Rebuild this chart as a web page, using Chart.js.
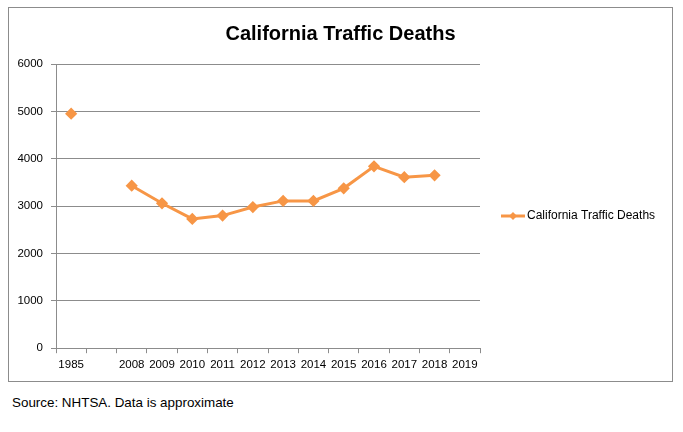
<!DOCTYPE html>
<html>
<head>
<meta charset="utf-8">
<script src="https://cdn.jsdelivr.net/npm/chart.js@4.4.0/dist/chart.umd.min.js"></script>
<style>
  html, body { margin: 0; padding: 0; background: #fff; }
  #frame { position: absolute; left: 8px; top: 7px; width: 663px; height: 373px; border: 1px solid #8c8c8c; }
  #wrap { position: absolute; left: 0; top: 0; width: 663px; height: 373px; }
  #src { position: absolute; left: 12px; top: 395px; font: 13.4px "Liberation Sans", Arial, sans-serif; color: #000; }
</style>
</head>
<body>
<div id="frame"><div id="wrap"><canvas id="c"></canvas></div></div>
<div id="src">Source: NHTSA. Data is approximate</div>
<script>
const categories = ["1985", "", "2008", "2009", "2010", "2011", "2012", "2013", "2014", "2015", "2016", "2017", "2018", "2019"];
const deaths = [4950, null, 3430, 3060, 2730, 2800, 2980, 3110, 3110, 3375, 3840, 3610, 3650, null];
const yTicks = [0, 1000, 2000, 3000, 4000, 5000, 6000];
const seriesName = "California Traffic Deaths";
const titleText = "California Traffic Deaths";
const orange = "#F79646";
const tickFont = { family: "Liberation Sans", size: 11.5 };

const legendPlugin = {
  id: 'sideLegend',
  afterDraw(chart) {
    const ctx = chart.ctx;
    const ds = chart.data.datasets[0];
    const y = 208;
    const x0 = 492, x1 = 516;
    ctx.save();
    ctx.strokeStyle = ds.borderColor;
    ctx.lineWidth = 3;
    ctx.beginPath(); ctx.moveTo(x0, y); ctx.lineTo(x1, y); ctx.stroke();
    ctx.fillStyle = ds.borderColor;
    const cx = (x0 + x1) / 2, r = 4;
    ctx.beginPath(); ctx.moveTo(cx, y - r); ctx.lineTo(cx + r, y); ctx.lineTo(cx, y + r); ctx.lineTo(cx - r, y); ctx.closePath(); ctx.fill();
    ctx.fillStyle = '#000';
    ctx.font = '12px "Liberation Sans"';
    ctx.textBaseline = 'middle';
    ctx.fillText(ds.label, x1 + 2, y);
    ctx.restore();
  }
};

new Chart(document.getElementById('c'), {
  type: 'line',
  data: {
    labels: categories,
    datasets: [{
      label: seriesName,
      data: deaths,
      borderColor: orange,
      backgroundColor: orange,
      borderWidth: 3,
      pointStyle: 'rectRot',
      pointRadius: 4,
      pointHoverRadius: 4,
      spanGaps: false,
      tension: 0
    }]
  },
  options: {
    responsive: true,
    maintainAspectRatio: false,
    animation: false,
    layout: { padding: { left: 0, right: 0, top: 0, bottom: 4 } },
    plugins: {
      legend: { display: false },
      tooltip: { enabled: false },
      title: {
        display: true,
        text: titleText,
        color: '#000',
        font: { family: "Liberation Sans", size: 20, weight: 'bold' },
        padding: { top: 14, bottom: 18 }
      }
    },
    scales: {
      x: {
        offset: true,
        grid: { offset: true, drawOnChartArea: false, drawTicks: true, tickLength: 5, color: '#8c8c8c' },
        border: { display: true, color: '#8c8c8c' },
        ticks: { color: '#000', font: tickFont, maxRotation: 0, autoSkip: false, padding: 5 }
      },
      y: {
        min: 0, max: 6000,
        afterBuildTicks(scale) { scale.ticks = yTicks.map(v => ({ value: v })); },
        afterFit(scale) { scale.width = 47; },
        grid: { color: '#8c8c8c', drawTicks: true, tickLength: 5 },
        border: { display: true, color: '#8c8c8c' },
        ticks: { color: '#000', font: tickFont, padding: 8, callback: v => String(v) }
      },
      yRight: {
        position: 'right',
        display: true,
        afterFit(scale) { scale.width = 192; },
        grid: { display: false, drawTicks: false },
        border: { display: false },
        ticks: { display: false }
      }
    }
  },
  plugins: [legendPlugin]
});
</script>
</body>
</html>
